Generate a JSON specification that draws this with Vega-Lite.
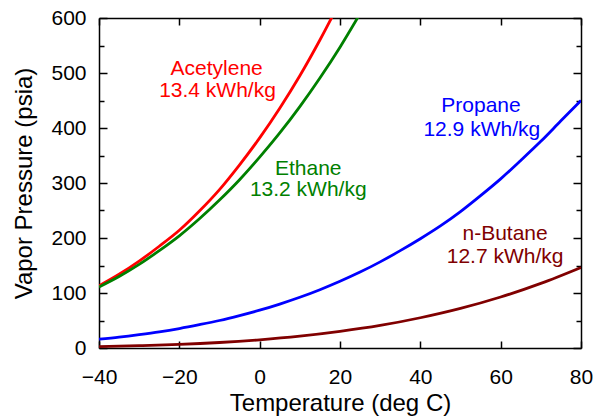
{
  "$schema": "https://vega.github.io/schema/vega-lite/v6.json",
  "width": 482,
  "height": 330,
  "autosize": {"type": "none"},
  "padding": {"left": 99, "top": 18, "right": 14, "bottom": 71},
  "background": "white",
  "config": {
    "view": {"stroke": null},
    "font": "Liberation Sans",
    "axis": {
      "domainColor": "black",
      "domainWidth": 1.5,
      "tickColor": "black",
      "tickWidth": 1.5,
      "grid": false,
      "labelFont": "Liberation Sans",
      "titleFont": "Liberation Sans",
      "labelFontSize": 21,
      "titleFontSize": 24,
      "labelColor": "black",
      "titleColor": "black",
      "titleFontWeight": "normal",
      "labelFlush": false,
      "labelOverlap": false
    }
  },
  "datasets": {
    "curves": [
      {"gas": "Acetylene", "T": -40, "P": 113},
      {"gas": "Acetylene", "T": -35, "P": 134},
      {"gas": "Acetylene", "T": -30, "P": 158},
      {"gas": "Acetylene", "T": -25, "P": 185},
      {"gas": "Acetylene", "T": -20, "P": 214},
      {"gas": "Acetylene", "T": -15, "P": 249},
      {"gas": "Acetylene", "T": -10, "P": 288},
      {"gas": "Acetylene", "T": -5, "P": 333},
      {"gas": "Acetylene", "T": 0, "P": 382},
      {"gas": "Acetylene", "T": 5, "P": 436},
      {"gas": "Acetylene", "T": 10, "P": 495},
      {"gas": "Acetylene", "T": 15, "P": 560},
      {"gas": "Acetylene", "T": 20, "P": 630},
      {"gas": "Ethane", "T": -40, "P": 111},
      {"gas": "Ethane", "T": -35, "P": 130},
      {"gas": "Ethane", "T": -30, "P": 152},
      {"gas": "Ethane", "T": -25, "P": 177},
      {"gas": "Ethane", "T": -20, "P": 204},
      {"gas": "Ethane", "T": -15, "P": 235},
      {"gas": "Ethane", "T": -10, "P": 269},
      {"gas": "Ethane", "T": -5, "P": 306},
      {"gas": "Ethane", "T": 0, "P": 347},
      {"gas": "Ethane", "T": 5, "P": 391},
      {"gas": "Ethane", "T": 10, "P": 439},
      {"gas": "Ethane", "T": 15, "P": 491},
      {"gas": "Ethane", "T": 20, "P": 547},
      {"gas": "Ethane", "T": 25, "P": 608},
      {"gas": "Propane", "T": -40, "P": 16.1},
      {"gas": "Propane", "T": -35, "P": 19.9},
      {"gas": "Propane", "T": -30, "P": 24.4},
      {"gas": "Propane", "T": -25, "P": 29.4},
      {"gas": "Propane", "T": -20, "P": 35.4},
      {"gas": "Propane", "T": -15, "P": 42.4},
      {"gas": "Propane", "T": -10, "P": 50.0},
      {"gas": "Propane", "T": -5, "P": 58.9},
      {"gas": "Propane", "T": 0, "P": 68.7},
      {"gas": "Propane", "T": 5, "P": 79.9},
      {"gas": "Propane", "T": 10, "P": 92.2},
      {"gas": "Propane", "T": 15, "P": 106},
      {"gas": "Propane", "T": 20, "P": 121.3},
      {"gas": "Propane", "T": 25, "P": 138},
      {"gas": "Propane", "T": 30, "P": 156.6},
      {"gas": "Propane", "T": 35, "P": 177},
      {"gas": "Propane", "T": 40, "P": 198.7},
      {"gas": "Propane", "T": 45, "P": 222},
      {"gas": "Propane", "T": 50, "P": 248},
      {"gas": "Propane", "T": 55, "P": 277},
      {"gas": "Propane", "T": 60, "P": 307.5},
      {"gas": "Propane", "T": 65, "P": 341},
      {"gas": "Propane", "T": 70, "P": 375.7},
      {"gas": "Propane", "T": 75, "P": 413},
      {"gas": "Propane", "T": 80, "P": 450},
      {"gas": "n-Butane", "T": -40, "P": 2.6},
      {"gas": "n-Butane", "T": -30, "P": 4.2},
      {"gas": "n-Butane", "T": -20, "P": 6.5},
      {"gas": "n-Butane", "T": -10, "P": 10.0},
      {"gas": "n-Butane", "T": 0, "P": 14.9},
      {"gas": "n-Butane", "T": 10, "P": 21.5},
      {"gas": "n-Butane", "T": 20, "P": 30.2},
      {"gas": "n-Butane", "T": 30, "P": 41.0},
      {"gas": "n-Butane", "T": 40, "P": 55.0},
      {"gas": "n-Butane", "T": 50, "P": 72.0},
      {"gas": "n-Butane", "T": 60, "P": 92.7},
      {"gas": "n-Butane", "T": 70, "P": 117.5},
      {"gas": "n-Butane", "T": 80, "P": 146.5}
    ],
    "labels": [
      {"gas": "Acetylene", "T": -10.7, "P": 507, "text": "Acetylene"},
      {"gas": "Acetylene", "T": -10.5, "P": 468, "text": "13.4 kWh/kg"},
      {"gas": "Ethane", "T": 12.1, "P": 325, "text": "Ethane"},
      {"gas": "Ethane", "T": 12.1, "P": 287, "text": "13.2 kWh/kg"},
      {"gas": "Propane", "T": 55.1, "P": 440, "text": "Propane"},
      {"gas": "Propane", "T": 55.3, "P": 396, "text": "12.9 kWh/kg"},
      {"gas": "n-Butane", "T": 61.1, "P": 207, "text": "n-Butane"},
      {"gas": "n-Butane", "T": 61.1, "P": 166, "text": "12.7 kWh/kg"}
    ]
  },
  "layer": [
    {
      "data": {"name": "curves"},
      "mark": {"type": "line", "strokeWidth": 2.8, "clip": true, "interpolate": "monotone"},
      "encoding": {
        "x": {
          "field": "T", "type": "quantitative",
          "scale": {"domain": [-40, 80], "nice": false, "zero": false},
          "axis": {
            "orient": "bottom",
            "title": "Temperature (deg C)",
            "values": [-40, -20, 0, 20, 40, 60, 80],
            "tickSize": -7,
            "labelPadding": 25,
            "titlePadding": 4
          }
        },
        "y": {
          "field": "P", "type": "quantitative",
          "scale": {"domain": [0, 600], "nice": false},
          "axis": {
            "orient": "left",
            "title": "Vapor Pressure (psia)",
            "values": [0, 50, 100, 150, 200, 250, 300, 350, 400, 450, 500, 550, 600],
            "labelExpr": "datum.value % 100 === 0 ? datum.label : ''",
            "tickSize": {"condition": {"test": "datum.value % 100 === 0", "value": -8}, "value": -5},
            "labelPadding": 21,
            "titlePadding": 14
          }
        },
        "color": {
          "field": "gas", "type": "nominal",
          "scale": {"domain": ["Acetylene", "Ethane", "Propane", "n-Butane"], "range": ["#ff0000", "#008000", "#0000ff", "#800000"]},
          "legend": null
        }
      }
    },
    {
      "data": {"name": "labels"},
      "mark": {"type": "text", "fontSize": 21, "font": "Liberation Sans", "align": "center", "baseline": "middle"},
      "encoding": {
        "x": {
          "field": "T", "type": "quantitative",
          "axis": {
            "orient": "top",
            "title": null,
            "labels": false,
            "values": [-40, -20, 0, 20, 40, 60, 80],
            "tickSize": -7
          }
        },
        "y": {
          "field": "P", "type": "quantitative",
          "axis": {
            "orient": "right",
            "title": null,
            "labels": false,
            "values": [0, 50, 100, 150, 200, 250, 300, 350, 400, 450, 500, 550, 600],
            "tickSize": {"condition": {"test": "datum.value % 100 === 0", "value": -8}, "value": -5}
          }
        },
        "text": {"field": "text"},
        "color": {"field": "gas", "type": "nominal", "legend": null}
      }
    }
  ],
  "resolve": {"axis": {"x": "independent", "y": "independent"}}
}
